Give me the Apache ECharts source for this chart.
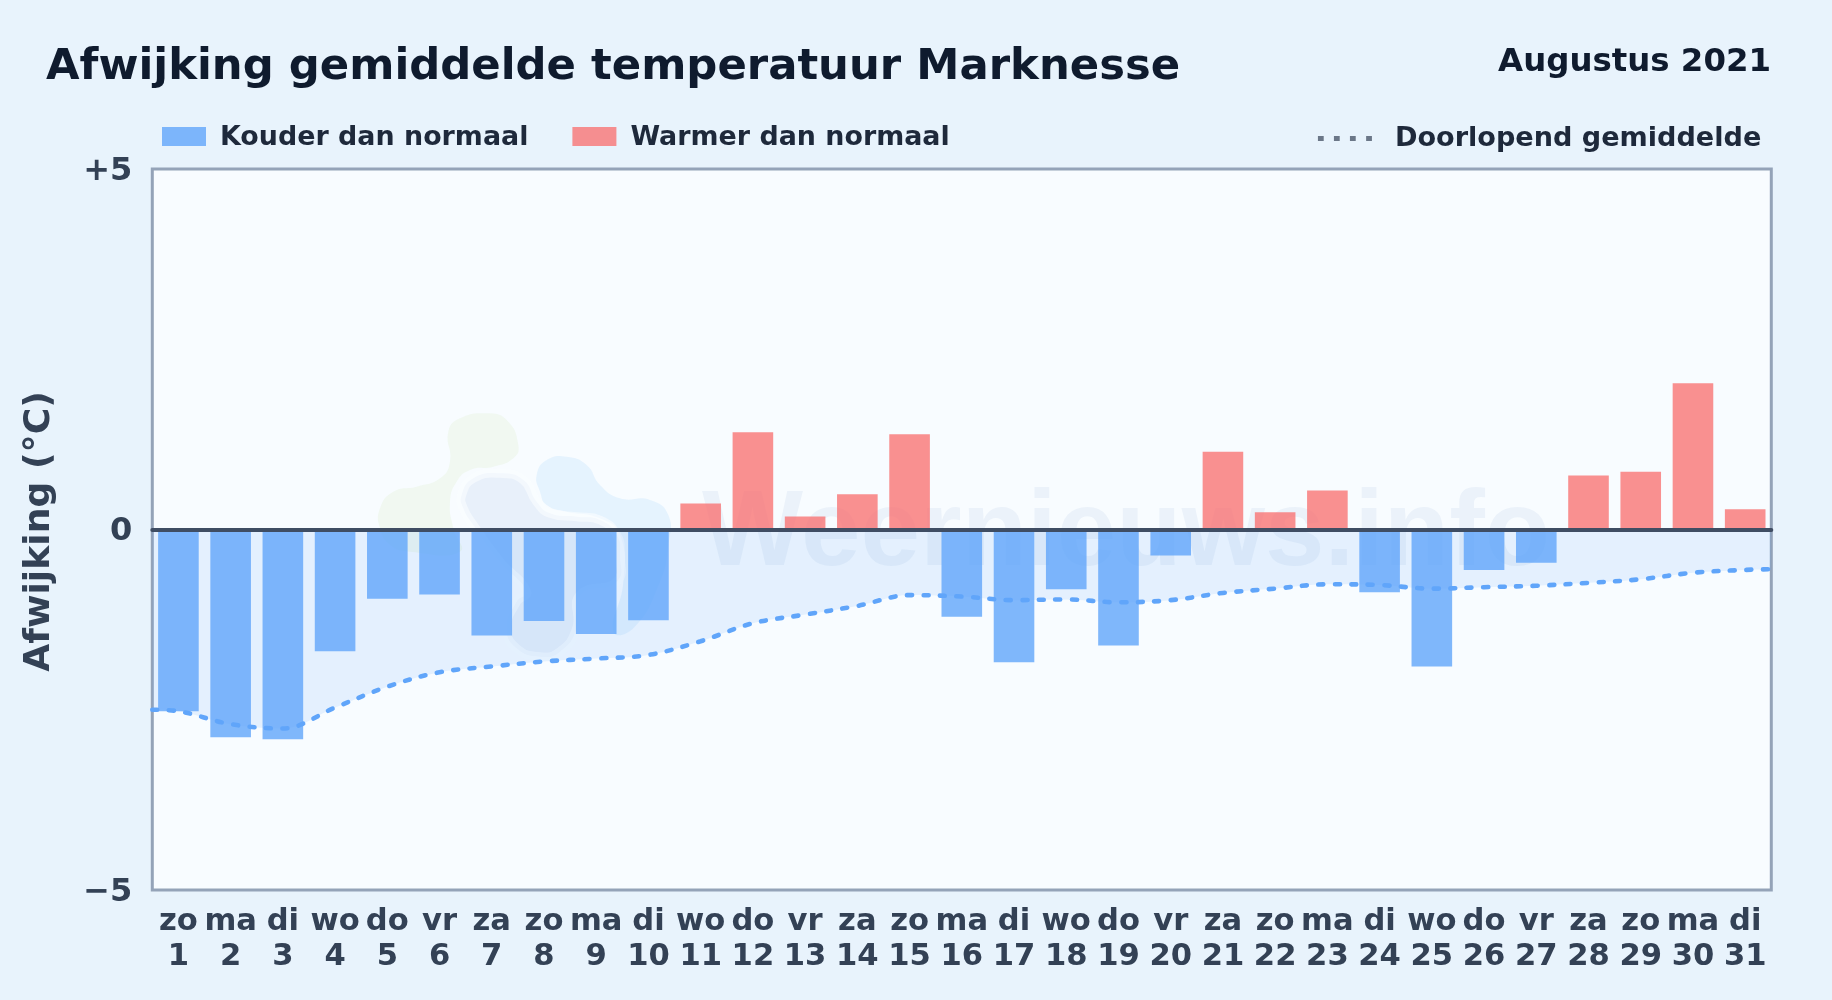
<!DOCTYPE html>
<html><head><meta charset="utf-8">
<style>html,body{margin:0;padding:0;width:1832px;height:1000px;overflow:hidden;background:#e8f3fc}#c{width:1832px;height:1000px}</style>
<script src="https://cdn.jsdelivr.net/npm/echarts@6/dist/echarts.min.js"></script>
</head><body><div id="c"></div>
<script>
const weekdays = ['zo','ma','di','wo','do','vr','za','zo','ma','di','wo','do','vr','za','zo','ma','di','wo','do','vr','za','zo','ma','di','wo','do','vr','za','zo','ma','di'];
const days = ['1','2','3','4','5','6','7','8','9','10','11','12','13','14','15','16','17','18','19','20','21','22','23','24','25','26','27','28','29','30','31'];
const afwijking = [-2.52,-2.88,-2.91,-1.69,-0.96,-0.90,-1.47,-1.27,-1.45,-1.26,0.36,1.35,0.18,0.49,1.32,-1.21,-1.84,-0.83,-1.61,-0.36,1.08,0.24,0.54,-0.87,-1.90,-0.56,-0.46,0.75,0.80,2.03,0.28];
const gemiddelde = [-2.52,-2.70,-2.76,-2.47,-2.18,-1.98,-1.90,-1.83,-1.79,-1.74,-1.55,-1.30,-1.18,-1.06,-0.91,-0.93,-0.98,-0.97,-1.01,-0.98,-0.88,-0.82,-0.76,-0.77,-0.82,-0.80,-0.78,-0.74,-0.69,-0.60,-0.56];
const gemStart = -2.50, gemEind = -0.55;
const yTicks = {'5':'+5','0':'0','-5':'\u22125'};

const catLabels = weekdays.map((w,i)=>w+'\n'+days[i]);
const koud = afwijking.map(v=>v<0?v:null);
const warm = afwijking.map(v=>v>=0?v:null);
const gemPts = [[0,gemStart]].concat(gemiddelde.map((v,i)=>[i+0.5,v]),[[days.length,gemEind]]);
const FONT = '"DejaVu Sans"';

const chart = echarts.init(document.getElementById('c'),null,{renderer:'canvas'});
// watermark logo outlines, given in the crop coordinates they were traced from
const logo = (pts,fill,extra)=>Object.assign({type:'polygon',z:1,silent:true,
  shape:{points:pts.map(p=>[360+p[0]/3,395+p[1]/3]),smooth:0.5},style:{fill}},extra||{});
const halo = {style:{fill:'rgba(120,160,215,0.13)',stroke:'rgba(250,253,255,0.6)',lineWidth:9}};
chart.setOption({
  animation:false,
  backgroundColor:'#e8f3fc',
  title:[
    {text:'Afwijking gemiddelde temperatuur Marknesse',left:41,top:41,textStyle:{fontFamily:FONT,fontWeight:'bold',fontSize:43.35,color:'#0f1b2e'}},
    {text:'Augustus 2021',right:56,top:41.5,textStyle:{fontFamily:FONT,fontWeight:'bold',fontSize:32.4,color:'#0f1b2e'}}
  ],
  legend:[
    {left:157,top:120,itemWidth:44,itemHeight:23,itemGap:44,icon:'path://M0 0h44v19H0zM0 23h0v0z',data:['Kouder dan normaal','Warmer dan normaal'],
      textStyle:{fontFamily:FONT,fontWeight:'bold',fontSize:26.9,color:'#1e293b',padding:[0,0,0,9]}},
    {right:65.7,top:120,itemWidth:54,itemHeight:5,icon:'path://M0 0h6v5H0zM16.6 0h6v5h-6zM33.2 0h6v5h-6zM50 0h6v5h-6z',
      itemStyle:{color:'#6b7788'},
      data:['Doorlopend gemiddelde'],
      textStyle:{fontFamily:FONT,fontWeight:'bold',fontSize:27.1,color:'#1e293b',padding:[0,0,0,18]}}
  ],
  grid:{left:152.3,right:60.7,top:169,bottom:110,show:true,backgroundColor:'#f8fcff',borderColor:'#94a3b8',borderWidth:3},
  xAxis:[
    {type:'category',data:catLabels,boundaryGap:true,position:'bottom',
      axisLine:{show:false,onZero:false},axisTick:{show:false},
      axisLabel:{interval:0,margin:15,fontFamily:FONT,fontWeight:'bold',fontSize:30.6,lineHeight:34.6,color:'#334155',hideOverlap:false}},
    {type:'value',min:0,max:days.length,show:true,z:5,
      axisLine:{show:true,onZero:true,lineStyle:{color:'#3f4d63',width:4}},axisTick:{show:false},axisLabel:{show:false},splitLine:{show:false}}
  ],
  yAxis:{type:'value',min:-5,max:5,interval:5,name:'Afwijking (°C)',nameLocation:'middle',nameGap:95,nameRotate:90,
    nameTextStyle:{fontFamily:FONT,fontWeight:'bold',fontSize:36.2,color:'#334155',padding:[0,4,0,0]},
    axisLine:{show:false},axisTick:{show:false},splitLine:{show:false},
    axisLabel:{margin:20,formatter:v=>'{t|'+yTicks[String(v)]+'}',
      rich:{t:{fontFamily:FONT,fontWeight:'bold',fontSize:32,color:'#334155',padding:[5,0,0,0]}}}},
  series:[
    {name:'gebied',type:'line',xAxisIndex:1,data:gemPts,smooth:0.35,showSymbol:false,silent:true,z:2,lineStyle:{width:0},areaStyle:{color:'rgba(96,165,250,0.19)'},legendHoverLink:false},
    {name:'Kouder dan normaal',type:'bar',data:koud,barWidth:40.6,barGap:'-100%',z:3,itemStyle:{color:'rgba(96,165,250,0.8)'}},
    {name:'Warmer dan normaal',type:'bar',data:warm,barWidth:40.6,barGap:'-100%',z:3,itemStyle:{color:'rgba(248,113,113,0.78)'}},
    {name:'Doorlopend gemiddelde',type:'line',xAxisIndex:1,data:gemPts,smooth:0.35,showSymbol:false,z:4,
      lineStyle:{color:'#60a5fa',width:4.6,type:[5,11.5],cap:'round'},itemStyle:{color:'#6b7788'}}
  ],
  graphic:{elements:[
    {type:'text',z:1,silent:true,left:702,top:482,style:{text:'Weernieuws.info',font:'bold 107px "Liberation Sans"',fill:'rgba(70,120,190,0.07)'}},
    logo([[300,70],[380,55],[440,75],[475,150],[460,190],[400,215],[330,225],[290,260],[270,320],[280,400],[300,470],[150,470],[90,450],[60,400],[60,340],[100,290],[170,275],[240,250],[270,200],[265,110]],'rgba(190,225,150,0.13)'),
    logo([[530,240],[560,195],[620,185],[680,210],[720,270],[780,310],[870,315],[925,360],[925,450],[900,560],[820,700],[760,710],[790,560],[780,420],[720,370],[620,350],[560,330],[540,290]],'rgba(96,180,250,0.12)'),
    logo([[305,300],[340,250],[420,235],[490,255],[530,320],[570,355],[650,365],[720,375],[770,420],[780,480],[770,560],[660,600],[650,700],[600,770],[540,785],[470,760],[440,700],[470,620],[500,590],[420,500],[340,390],[310,340]],'',halo)
  ]}
});
</script></body></html>
